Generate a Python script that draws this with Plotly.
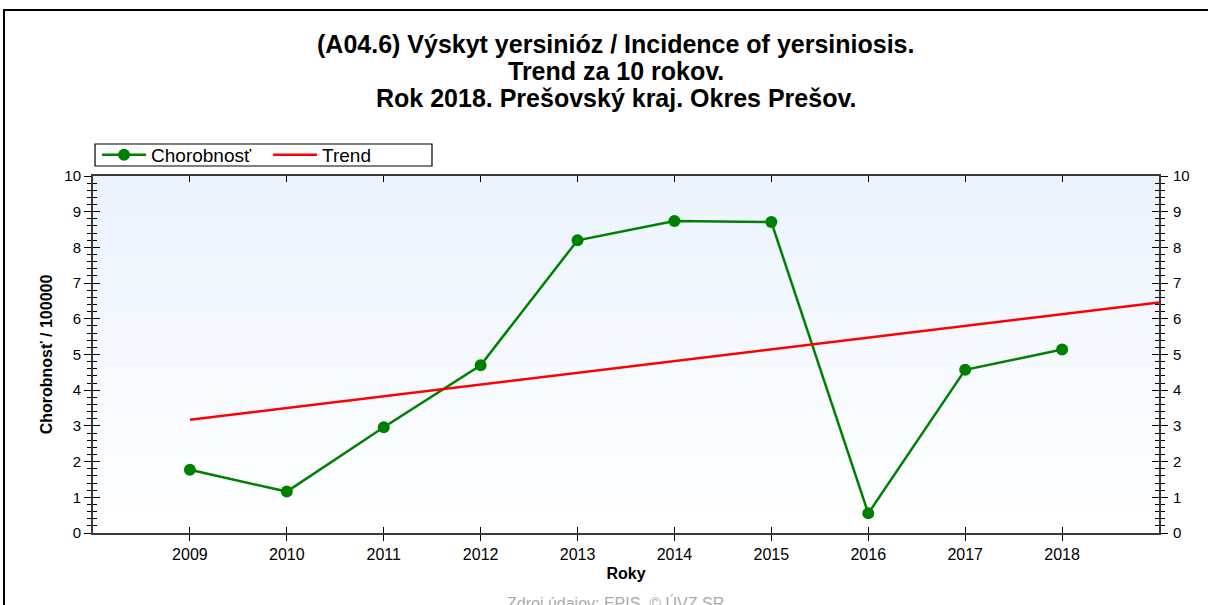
import plotly.graph_objects as go

years = [2009, 2010, 2011, 2012, 2013, 2014, 2015, 2016, 2017, 2018]
year_labels = ["2009", "2010", "2011", "2012", "2013", "2014", "2015", "2016", "2017", "2018"]
incidence = [1.77, 1.16, 2.96, 4.70, 8.20, 8.74, 8.71, 0.55, 4.57, 5.14]
trend_x = [2009, 2019]
trend_y = [3.17, 6.46]
y_ticks = [0, 1, 2, 3, 4, 5, 6, 7, 8, 9, 10]

title_lines = ["(A04.6) Výskyt yersinióz / Incidence of yersiniosis.",
               "Trend za 10 rokov.",
               "Rok 2018. Prešovský kraj. Okres Prešov."]
source_text = "Zdroj údajov: EPIS, © ÚVZ SR"

FONT = "Liberation Sans, Arial, sans-serif"
AXC = "#3a3a3a"

fig = go.Figure()
fig.add_trace(go.Scatter(
    x=years, y=incidence, name="Chorobnosť", mode="lines+markers",
    line=dict(color="#008000", width=2.5),
    marker=dict(color="#008000", size=12, symbol="circle"),
    xaxis="x", yaxis="y"))
fig.add_trace(go.Scatter(
    x=trend_x, y=trend_y, name="Trend", mode="lines",
    line=dict(color="#ff0000", width=2.5),
    xaxis="x2", yaxis="y2"))

# gradient background strips
shapes = []
n = 60
top = (234, 243, 254)
for i in range(n):
    f = i / (n - 1)
    c = tuple(int(round(top[k] + (255 - top[k]) * f)) for k in range(3))
    shapes.append(dict(type="rect", xref="x domain", yref="y domain",
                       x0=0, x1=1, y0=1 - (i + 1) / n, y1=1 - i / n,
                       fillcolor="rgb(%d,%d,%d)" % c, line=dict(width=0),
                       layer="below"))
# outer frame (cropped)
shapes.append(dict(type="rect", xref="paper", yref="paper",
                   x0=-0.0835, x1=1.6, y0=-1.0, y1=1.465,
                   line=dict(color="black", width=2), fillcolor="rgba(0,0,0,0)",
                   layer="above"))
# legend box
shapes.append(dict(type="rect", xref="paper", yref="paper",
                   x0=0.0019, x1=0.318, y0=1.028, y1=1.0896,
                   line=dict(color="black", width=1.2), fillcolor="white",
                   layer="above"))

common_y = dict(range=[0, 10], tickvals=y_ticks, showgrid=False, zeroline=False,
                showline=True, linecolor=AXC, linewidth=2, tickcolor="black",
                tickwidth=1, ticklen=7,
                tickfont=dict(family=FONT, size=15, color="black"))
common_x = dict(range=[2008, 2019], tickvals=years, ticktext=year_labels,
                showgrid=False, zeroline=False, showline=True, linecolor=AXC,
                linewidth=2, tickcolor="black", tickwidth=1,
                tickfont=dict(family=FONT, size=16, color="black"))

title_y = [1.3697, 1.2941, 1.2185]
annotations = []
for txt, yy in zip(title_lines, title_y):
    annotations.append(dict(text="<b>" + txt + "</b>", xref="paper", yref="paper",
                            x=0.4906, y=yy, xanchor="center", yanchor="middle",
                            showarrow=False,
                            font=dict(family=FONT, size=25, color="black")))
annotations.append(dict(text=source_text, xref="paper", yref="paper",
                        x=0.49, y=-0.195, xanchor="center", yanchor="middle",
                        showarrow=False,
                        font=dict(family=FONT, size=16, color="#aaaaaa")))

fig.update_layout(
    width=1208, height=605,
    margin=dict(l=93, r=49, t=176, b=72),
    paper_bgcolor="white", plot_bgcolor="white",
    font=dict(family=FONT, color="black"),
    showlegend=True,
    legend=dict(orientation="h", x=0.0038, xanchor="left", y=1.0588, yanchor="middle",
                bgcolor="rgba(0,0,0,0)", borderwidth=0,
                font=dict(family=FONT, size=19, color="black"),
                entrywidth=112, entrywidthmode="pixels",
                itemwidth=44, tracegroupgap=0),
    xaxis=dict(**common_x, ticks="outside", ticklen=6, mirror=True,
               title=dict(text="<b>Roky</b>", font=dict(family=FONT, size=16),
                          standoff=6)),
    xaxis2=dict(**common_x, overlaying="x", side="bottom", ticks="inside",
                ticklen=6, mirror="ticks", showticklabels=False),
    yaxis=dict(**common_y, side="left", ticks="outside", mirror="ticks",
               minor=dict(dtick=0.2, ticks="outside", ticklen=4,
                          tickcolor="black", tickwidth=1),
               title=dict(text="<b>Chorobnosť / 100000</b>",
                          font=dict(family=FONT, size=16), standoff=8)),
    yaxis2=dict(**common_y, overlaying="y", side="right", ticks="inside",
                mirror="ticks", ticklabelstandoff=9,
                minor=dict(dtick=0.2, ticks="inside", ticklen=4,
                           tickcolor="black", tickwidth=1)),
    shapes=shapes,
    annotations=annotations,
)

fig.write_html("out.html", config={"displayModeBar": False},
               post_script="document.body.style.margin='0';document.body.style.overflow='hidden';")
